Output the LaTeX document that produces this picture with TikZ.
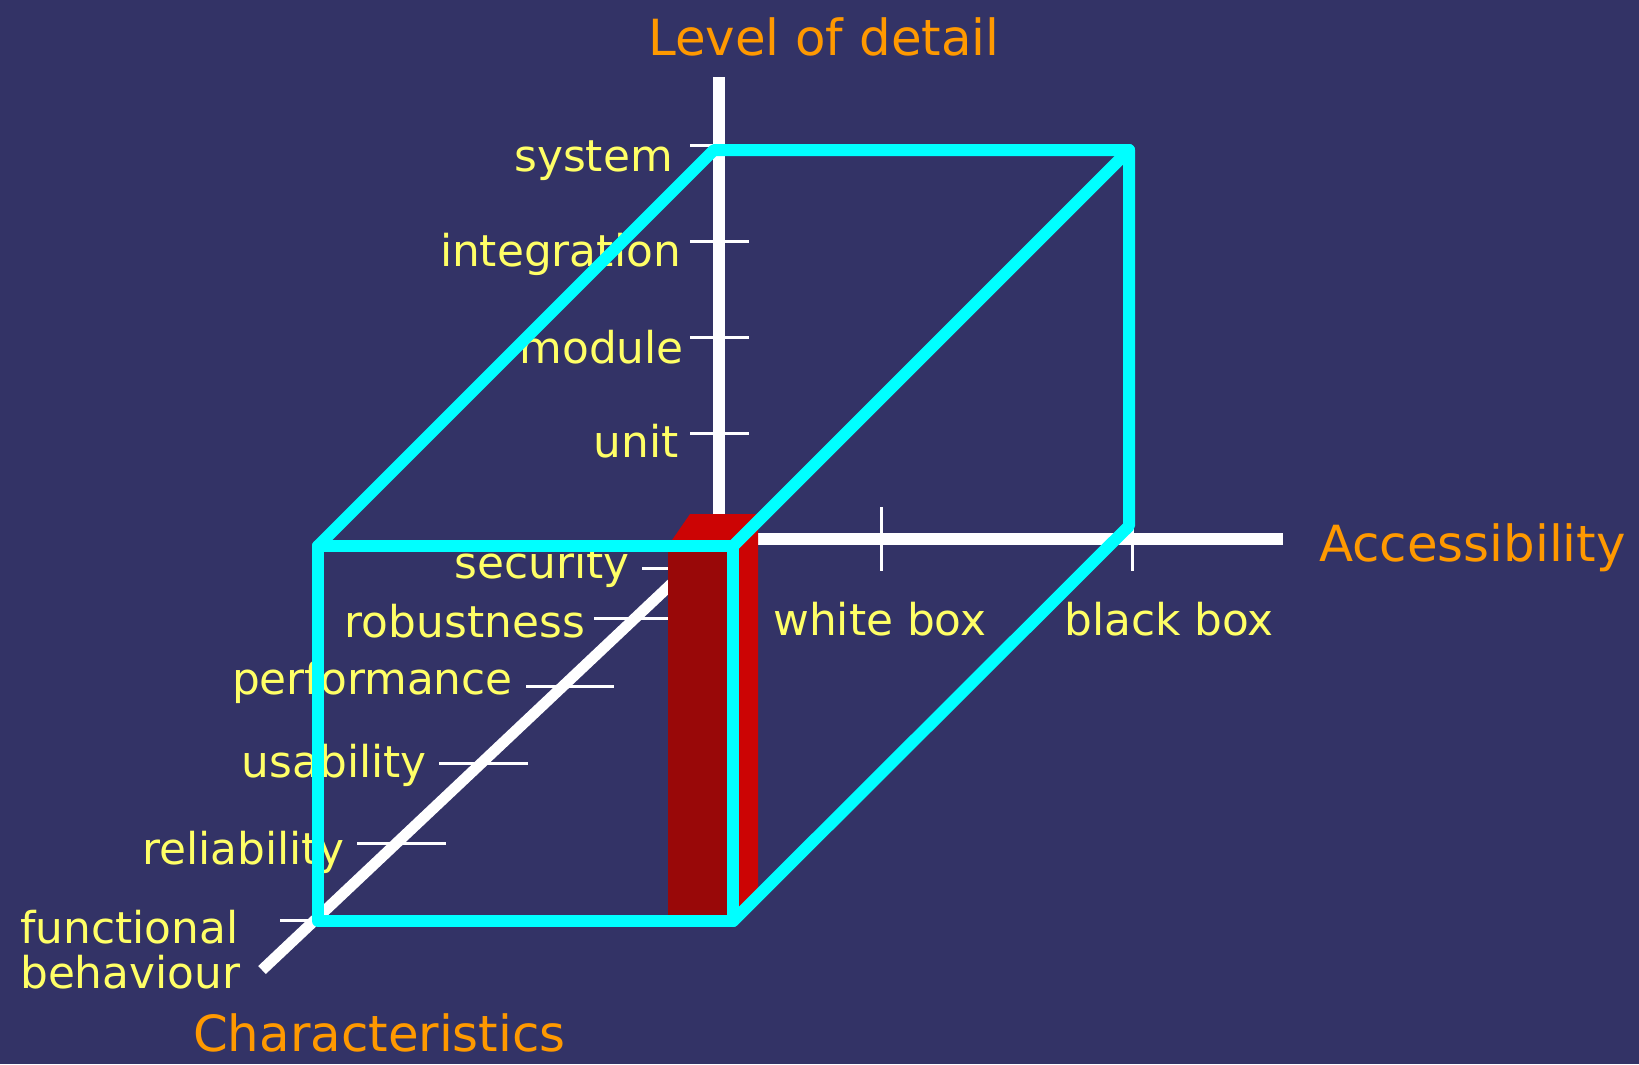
\documentclass[tikz,border=0pt]{standalone}
\usepackage{fontspec}
\setmainfont{DejaVu Sans}
\definecolor{bgC}{HTML}{333366}
\definecolor{labY}{HTML}{FFFF66}
\definecolor{ttlO}{HTML}{FF9900}
\definecolor{cubeC}{HTML}{00FFFF}
\definecolor{redFront}{HTML}{990808}
\definecolor{redSide}{HTML}{CC0404}
\begin{document}
\begin{tikzpicture}[x=1bp,y=-1bp,
  axisline/.style={white, line width=12.5bp},
  tickline/.style={white, line width=3bp},
  cubeline/.style={cubeC, line width=12bp, line join=round, line cap=round},
  lbl/.style={text=labY, font=\fontsize{44}{50}\selectfont, inner sep=0pt},
  ttl/.style={text=ttlO, font=\fontsize{50}{56}\selectfont, inner sep=0pt, text depth=0pt}]
\fill[bgC] (0,0) rectangle (1639,1064);
\useasboundingbox (0,0) rectangle (1639,1064);
% axes
\coordinate (O) at (719,539);
\coordinate (Vtop) at (719,77);
\coordinate (Hend) at (1283,539);
\coordinate (Dend) at (262,970);
\draw[axisline] (O) ++(0,6) -- (Vtop);
\draw[axisline] (O) -- (Hend);
\draw[axisline, line width=11bp] (O) -- (Dend);
% ticks on level of detail axis
\foreach \y/\n in {145/vs,241/vi,337/vm,433/vu}
  \draw[tickline] (690,\y) coordinate (\n a) -- (749,\y) coordinate (\n b);
% ticks on accessibility axis
\draw[tickline] (881,507) coordinate (wa) -- (881,571) coordinate (wb);
\draw[tickline] (1132,507) coordinate (ba) -- (1132,571) coordinate (bb);
% ticks on characteristics axis
\draw[tickline] (642,568) coordinate (c1a) -- (730,568) coordinate (c1b);
\draw[tickline] (594,618) coordinate (c2a) -- (682,618) coordinate (c2b);
\draw[tickline] (526,686) coordinate (c3a) -- (614,686) coordinate (c3b);
\draw[tickline] (439,763) coordinate (c4a) -- (528,763) coordinate (c4b);
\draw[tickline] (357,843) coordinate (c5a) -- (446,843) coordinate (c5b);
\draw[tickline] (280,920) coordinate (c6a) -- (356,920) coordinate (c6b);
% titles
\node[ttl, anchor=base west] (tLevel) at (648,55) {Level of detail};
\node[ttl, anchor=base west] (tAcc) at (1319,561) {Accessibility};
\node[ttl, anchor=base west] (tChar) at (193,1051) {Characteristics};
% level labels
\node[lbl, anchor=base east] (lSystem) at (673,171) {system};
\node[lbl, anchor=base east] (lInteg) at (681,266) {integration};
\node[lbl, anchor=base east] (lModule) at (684,363) {module};
\node[lbl, anchor=base east] (lUnit) at (679,457) {unit};
% accessibility labels
\node[lbl, anchor=base west] (lWhite) at (773,635) {white box};
\node[lbl, anchor=base west] (lBlack) at (1064,635) {black box};
% characteristics labels
\node[lbl, anchor=base east] (lSec) at (630,578) {security};
\node[lbl, anchor=base east] (lRob) at (585,637) {robustness};
\node[lbl, anchor=base east] (lPerf) at (513,694) {performance};
\node[lbl, anchor=base east] (lUsa) at (427,777) {usability};
\node[lbl, anchor=base east] (lRel) at (345,864) {reliability};
\node[lbl, anchor=base west] (lFunc) at (20,943) {functional};
\node[lbl, anchor=base west] (lBeh) at (20,988) {behaviour};
% red box
\fill[redFront] (668,546) rectangle (733,921);
\fill[redSide] (733,546) -- (758,514) -- (758,891) -- (733,921) -- cycle;
\fill[redSide] (668,546) -- (690,514) -- (758,514) -- (733,546) -- cycle;
% cube
\coordinate (F1) at (318,546);
\coordinate (F2) at (733,546);
\coordinate (F3) at (733,921);
\coordinate (F4) at (318,921);
\coordinate (B1) at (714,150);
\coordinate (B2) at (1129,150);
\coordinate (B3) at (1129,526);
\draw[cubeline] (F1) -- (F2) -- (F3) -- (F4) -- cycle;
\draw[cubeline] (F1) -- (B1) -- (B2) -- (B3) -- (F3);
\draw[cubeline] (F2) -- (B2);
\end{tikzpicture}
\end{document}
